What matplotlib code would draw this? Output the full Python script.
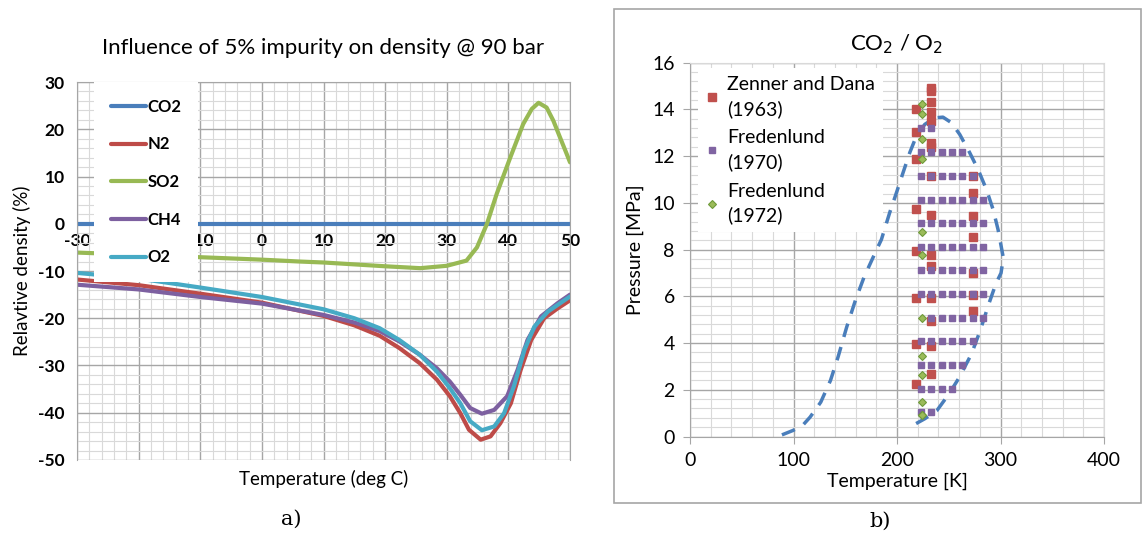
import numpy as np
import matplotlib.pyplot as plt
from matplotlib.patches import Rectangle

plt.rcParams['font.family'] = ['Lato', 'DejaVu Sans']
plt.rcParams['axes.unicode_minus'] = False

# ---- a) impurity influence on density ----
t_co2 = [-30, 50]
co2 = [0, 0]

t_n2 = [-30, -20, -10, 0, 10, 15, 19.1, 22.3, 25.6, 28.4, 30.5, 32.2, 33.6, 35.5, 37.1, 38.7,
        40.4, 42.0, 43.7, 45.8, 48.0, 50]
n2 = [-11.8, -13.0, -14.8, -16.7, -19.5, -21.5, -23.7, -26.3, -29.5, -33.0, -36.5, -40.1, -43.6,
      -45.7, -45.0, -42.2, -38.0, -30.9, -24.6, -20.0, -17.9, -16.2]

t_ch4 = [-30, -20, -10, 0, 10, 15, 19.1, 22.3, 25.6, 28.4, 30.5, 32.2, 33.8, 35.7, 37.7, 39.8,
         41.5, 43.1, 45.3, 48.0, 50]
ch4 = [-12.9, -13.9, -15.5, -16.9, -19.3, -20.9, -22.7, -24.9, -27.7, -30.6, -33.4, -36.2, -39.0,
       -40.2, -39.4, -36.5, -30.9, -24.6, -19.6, -16.8, -15.0]

t_o2 = [-30, -20, -10, 0, 10, 15, 19.1, 22.3, 25.6, 28.4, 30.5, 32.2, 33.8, 35.7, 37.7, 39.3,
        40.9, 42.6, 44.2, 46.4, 50]
o2 = [-10.4, -11.6, -13.5, -15.5, -18.1, -20.0, -22.1, -24.6, -27.7, -31.3, -34.8, -38.0, -41.8,
      -43.7, -42.9, -40.1, -34.4, -26.7, -21.8, -18.6, -15.4]

t_so2 = [-30, -15.4, 0, 6.2, 10, 20, 25.7, 30, 33.2, 34.9, 36.5, 38.1, 40.3, 42.4, 43.8, 44.9,
         46.2, 47.3, 48.4, 49.3, 50]
so2 = [-6.1, -6.8, -7.6, -8.0, -8.2, -9.0, -9.4, -8.9, -7.8, -5.0, -0.1, 6.3, 14.0, 21.1, 24.3,
       25.6, 24.6, 21.8, 18.2, 15.3, 13.0]

# ---- b) CO2 / O2 VLE data ----
zd_T = [233, 233, 233, 218, 233, 233, 218, 233, 233, 218, 233, 273, 273, 218, 233, 273, 273,
        218, 233, 233, 273, 218, 233, 273, 273, 233, 218, 233, 233, 218]
zd_P = [14.93, 14.79, 14.31, 14.04, 13.88, 13.5, 13.03, 12.57, 12.4, 11.86, 11.15, 11.14, 10.43,
        9.75, 9.49, 9.46, 8.53, 7.93, 7.79, 7.32, 7.01, 5.94, 5.94, 6.07, 5.36, 4.96, 3.97, 3.86,
        2.69, 2.25]

fr70_rows = [13.22, 12.17, 11.17, 10.14, 9.14, 8.11, 7.12, 6.11, 5.09, 4.08, 3.08, 2.04, 1.05]
fr70_temps = [[223, 233],
              [223, 233, 243, 253, 263],
              [223, 233, 243, 253, 263, 273],
              [223, 233, 243, 253, 263, 273, 283],
              [223, 233, 243, 253, 263, 273, 283],
              [223, 233, 243, 253, 263, 273, 283],
              [223, 233, 243, 253, 263, 273, 283],
              [223, 233, 243, 253, 263, 273, 283],
              [233, 243, 253, 263, 273, 283],
              [223, 233, 243, 253, 263, 273],
              [223, 233, 243, 253, 263],
              [223, 233, 243, 253],
              [223, 233]]

fr72_T = [224] * 12
fr72_P = [14.24, 13.79, 12.75, 11.86, 8.74, 7.76, 5.09, 3.46, 2.65, 1.48, 0.94, 0.94]

env_T = [88.8, 99.5, 109.5, 116, 126.3, 135.7, 143, 151.4, 159.8, 168.2, 180, 184.9, 192.9, 199.4,
         205.8, 212.3, 218.7, 226.8, 236.4, 244.4, 252.6, 260.6, 270.2, 278.3, 286.4, 292.8, 297.6,
         302.4, 302.2, 300.5, 295.5, 288.8, 280.4, 272, 260.3, 250.3, 238.5, 226.8, 215]
env_P = [0.07, 0.26, 0.51, 0.83, 1.47, 2.4, 3.4, 4.69, 5.83, 6.83, 7.97, 8.43, 9.58, 10.43, 11.29,
         12.15, 12.86, 13.36, 13.64, 13.67, 13.43, 12.93, 12.15, 11.43, 10.57, 9.72, 8.86, 7.72,
         7.5, 7.0, 6.54, 5.69, 4.54, 3.54, 2.54, 1.83, 1.11, 0.76, 0.47]

fig = plt.figure(figsize=(11.43, 5.36), dpi=100)

# ---------------- left panel ----------------
ax = fig.add_axes([0.0674, 0.1418, 0.4313, 0.7052])
ax.set_xlim(-30, 50)
ax.set_ylim(-50, 30)
ax.set_xticks(np.arange(-30, 51, 10))
ax.set_yticks(np.arange(-50, 31, 10))
ax.set_xticks(np.arange(-30, 51, 2), minor=True)
ax.set_yticks(np.arange(-50, 31, 2), minor=True)
ax.grid(which='major', color='#a6a6a6', lw=1.0)
ax.grid(which='minor', color='#d9d9d9', lw=0.8)
ax.set_axisbelow(True)
ax.spines['bottom'].set_position(('data', 0))
ax.spines['bottom'].set_visible(False)
for s in ['top', 'left', 'right']:
    ax.spines[s].set_color('#a6a6a6')
ax.tick_params(which='both', length=0)
ax.tick_params(axis='x', pad=7, labelsize=12.5)
ax.tick_params(axis='y', pad=9, labelsize=12.5)
for lab in ax.get_xticklabels() + ax.get_yticklabels():
    lab.set_fontweight('bold')

lw = 3
kw = dict(lw=lw, solid_joinstyle='round', solid_capstyle='round')
ax.plot(t_co2, co2, color='#4a7ebb', label='CO2', **kw)
ax.plot(t_n2, n2, color='#be4b48', label='N2', **kw)
ax.plot(t_so2, so2, color='#98b954', label='SO2', **kw)
ax.plot(t_ch4, ch4, color='#7d60a0', label='CH4', **kw)
ax.plot(t_o2, o2, color='#46aac5', label='O2', **kw)

leg = ax.legend(loc='upper left', bbox_to_anchor=(0.035, 1.0), prop={'weight': 'bold', 'size': 12},
                labelspacing=1.3, handlelength=2.1, handletextpad=0.1, borderpad=1.0,
                fancybox=False, framealpha=1, edgecolor='none', borderaxespad=0)

ax.set_title('Influence of 5% impurity on density @ 90 bar', fontsize=16, pad=20)
ax.set_ylabel('Relavtive density (%)', fontsize=13.5, labelpad=5)
ax.text(0.5, -0.025, 'Temperature (deg C)', transform=ax.transAxes, ha='center', va='top', fontsize=13.5)

# ---------------- right panel ----------------
fig.patches.append(Rectangle((0.5372, 0.0616), 0.461, 0.9216, transform=fig.transFigure,
                             fill=False, edgecolor='#a6a6a6', lw=1.2))
bx = fig.add_axes([0.6037, 0.1856, 0.3622, 0.6974])
bx.set_xlim(0, 400)
bx.set_ylim(0, 16)
bx.set_xticks(np.arange(0, 401, 100))
bx.set_yticks(np.arange(0, 17, 2))
bx.set_xticks(np.arange(0, 401, 20), minor=True)
bx.set_yticks(np.arange(0, 16.01, 0.4), minor=True)
bx.grid(which='major', color='#a6a6a6', lw=1.0)
bx.grid(which='minor', color='#d9d9d9', lw=0.8)
bx.set_axisbelow(True)
for s in ['top', 'right']:
    bx.spines[s].set_color('#d9d9d9')
for s in ['left', 'bottom']:
    bx.spines[s].set_color('#a6a6a6')
bx.tick_params(which='major', length=5, color='#a6a6a6', labelsize=14, pad=6)
bx.tick_params(which='minor', length=0)

bx.plot(env_T, env_P, color='#4a7ebb', lw=2.5, ls=(0, (4, 3)))
bx.plot(zd_T, zd_P, ls='none', marker='s', ms=5.5, color='#c0504d', label='Zenner and Dana\n(1963)')
fr70_T = [t for row in fr70_temps for t in row]
fr70_P = [p for p, row in zip(fr70_rows, fr70_temps) for t in row]
bx.plot(fr70_T, fr70_P, ls='none', marker='s', ms=4, color='#8064a2', label='Fredenlund\n(1970)')
bx.plot(fr72_T, fr72_P, ls='none', marker='D', ms=4, color='#6f9a3a', mfc='#9bbb59', mew=0.8,
        label='Fredenlund\n(1972)')

bleg = bx.legend(loc='upper left', bbox_to_anchor=(0.02, 0.985), fontsize=14, labelspacing=0.6,
                 handlelength=0.6, handletextpad=0.5, borderpad=0.4, fancybox=False, framealpha=1,
                 edgecolor='none', borderaxespad=0)
for txt in bleg.get_texts():
    txt.set_linespacing(1.45)

bx.set_title('CO$_2$ / O$_2$', fontsize=16, pad=9)
bx.set_ylabel('Pressure [MPa]', fontsize=14, labelpad=6)
bx.set_xlabel('Temperature [K]', fontsize=14, labelpad=3)

fig.text(291 / 1143, 1 - 519 / 536, 'a)', ha='center', va='center', fontsize=15, family='DejaVu Serif')
fig.text(880 / 1143, 1 - 521 / 536, 'b)', ha='center', va='center', fontsize=15, family='DejaVu Serif')

fig.savefig('out.png', dpi=100)
